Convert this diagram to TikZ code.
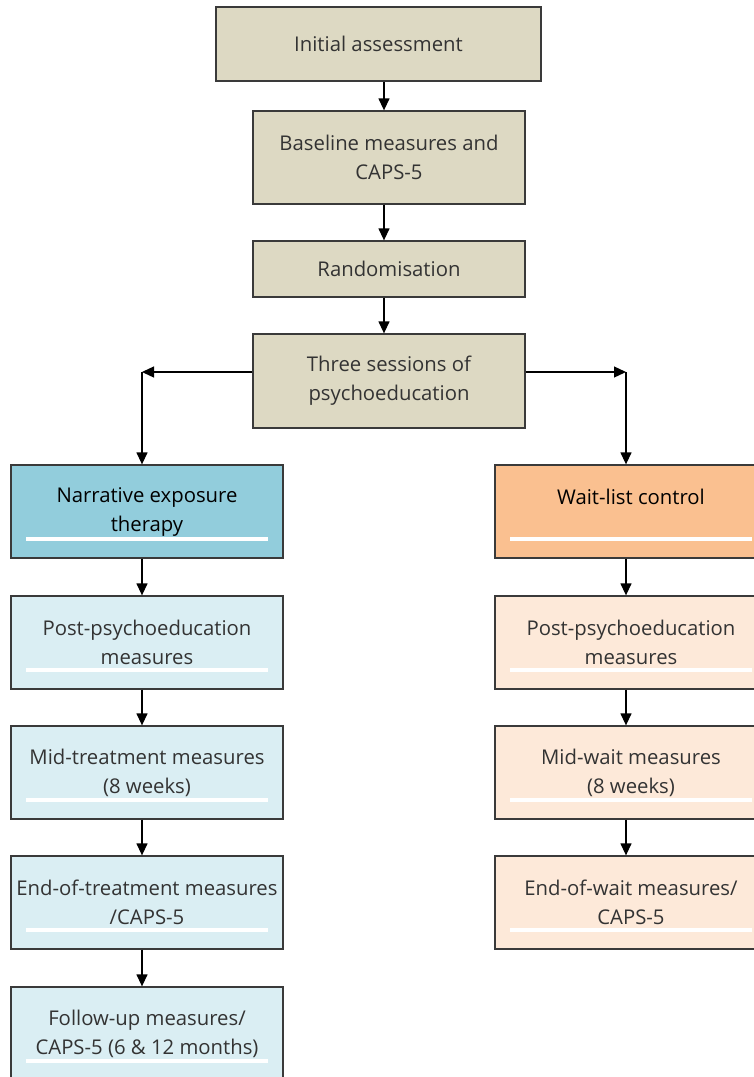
\documentclass[tikz,border=0pt]{standalone}
\usepackage{fontspec}
\setmainfont{Open Sans}
\usetikzlibrary{arrows.meta,calc}
\definecolor{tanfill}{HTML}{DDD9C3}
\definecolor{netblue}{HTML}{92CDDC}
\definecolor{lblue}{HTML}{DAEEF3}
\definecolor{orng}{HTML}{FAC090}
\definecolor{lorng}{HTML}{FDE9D9}
\definecolor{edgec}{HTML}{3A3A3A}
\definecolor{txt}{HTML}{333333}
\begin{document}
\begin{tikzpicture}[x=1pt,y=-1pt,
 box/.style={draw=edgec, line width=1.3pt, minimum width=272pt, minimum height=93pt,
   align=center, inner sep=0pt, font=\fontsize{20.3}{29}\selectfont, text=txt},
 tanbox/.style={box, fill=tanfill},
 lbox/.style={box, fill=lblue},
 rbox/.style={box, fill=lorng},
 arr/.style={draw=black, line width=1.3pt, -{Triangle[length=12pt,width=11pt]}},
 bar/.style={draw=white, line width=4pt}]
\useasboundingbox (0,0) rectangle (754,1077);
\clip (0,0) rectangle (754,1077);
\fill[white] (0,0) rectangle (754,1077);

% top column
\node[tanbox, minimum width=325pt, minimum height=74pt] (init) at (378.5,44) {Initial assessment};
\node[tanbox] (base) at (389,157.5) {Baseline measures and\\CAPS-5};
\node[tanbox, minimum height=56pt] (rand) at (389,269) {Randomisation};
\node[tanbox, minimum height=94pt] (three) at (389,381) {Three sessions of\\psychoeducation};

% left column
\node[box, fill=netblue, text=black] (net) at (147,511.5) {Narrative exposure\\therapy};
\node[lbox] (lpost) at (147,642.5) {Post-psychoeducation\\measures};
\node[lbox] (lmid) at (147,772.5) {Mid-treatment measures\\(8 weeks)};
\node[lbox] (lend) at (147,902.5) {End-of-treatment measures\\/CAPS-5};
\node[lbox] (lfol) at (147,1033.5) {Follow-up measures/\\CAPS-5 (6 \& 12 months)};

% right column
\node[box, fill=orng, text=black] (wlc) at (631,511.5) {Wait-list control\\~};
\node[rbox] (rpost) at (631,642.5) {Post-psychoeducation\\measures};
\node[rbox] (rmid) at (631,772.5) {Mid-wait measures\\(8 weeks)};
\node[rbox] (rend) at (631,902.5) {End-of-wait measures/\\CAPS-5};

% white bars
\foreach \n in {net,lpost,lmid,lend,lfol,wlc,rpost,rmid,rend}{
  \draw[bar] ($(\n.south west)+(16,-20)$) -- ($(\n.south east)+(-16,-20)$);
}

% arrow axes
\coordinate (ax) at (384,0);
\coordinate (lx) at (142,0);
\coordinate (rx) at (626,0);
\coordinate (cl) at (142,372);
\coordinate (cr) at (626,372);

\draw[arr] (init.south -| ax) -- (base.north -| ax);
\draw[arr] (base.south -| ax) -- (rand.north -| ax);
\draw[arr] (rand.south -| ax) -- (three.north -| ax);

\draw[arr] (three.west |- cl) -- (cl);
\draw[arr] (cl) -- (net.north -| cl);
\draw[arr] (three.east |- cr) -- (cr);
\draw[arr] (cr) -- (wlc.north -| cr);

\draw[arr] (net.south -| lx) -- (lpost.north -| lx);
\draw[arr] (lpost.south -| lx) -- (lmid.north -| lx);
\draw[arr] (lmid.south -| lx) -- (lend.north -| lx);
\draw[arr] (lend.south -| lx) -- (lfol.north -| lx);

\draw[arr] (wlc.south -| rx) -- (rpost.north -| rx);
\draw[arr] (rpost.south -| rx) -- (rmid.north -| rx);
\draw[arr] (rmid.south -| rx) -- (rend.north -| rx);
\end{tikzpicture}
\end{document}
